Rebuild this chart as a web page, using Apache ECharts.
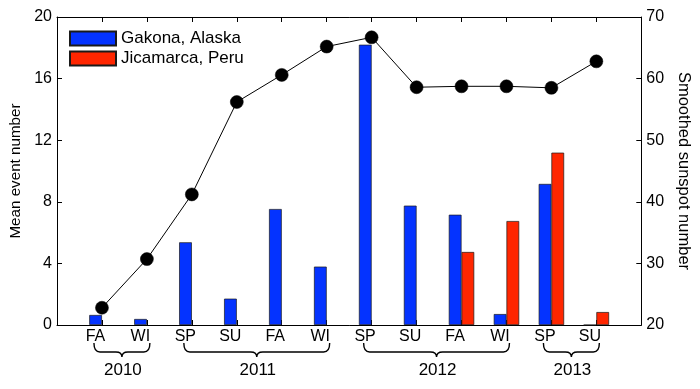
<!DOCTYPE html>
<html>
<head>
<meta charset="utf-8">
<script src="https://cdn.jsdelivr.net/npm/echarts@6/dist/echarts.min.js"></script>
<style>
html,body{margin:0;padding:0;background:#fff;}
#chart{width:700px;height:389px;}
</style>
</head>
<body>
<div id="chart"></div>
<script>
// ---- data ----
var seasons = ['FA','WI','SP','SU','FA','WI','SP','SU','FA','WI','SP','SU'];
var gakona = [0.65, 0.39, 5.37, 1.71, 7.53, 3.79, 18.2, 7.75, 7.16, 0.71, 9.16, 0];
var jicamarca = [null, null, null, null, null, null, null, null, 4.74, 6.75, 11.19, 0.84];
var sunspot = [22.8, 30.7, 41.2, 56.2, 60.6, 65.2, 66.7, 58.6, 58.75, 58.75, 58.5, 62.8];
var yearLabels = ['2010', '2011', '2012', '2013'];
var yearFirst = [1, 3, 7, 11];   // category positions (1-based) of first season in year
var yearLast  = [2, 6, 10, 12];
var leftTicks = {min: 0, max: 20, interval: 4};
var rightTicks = {min: 20, max: 70, interval: 10};

// ---- build ----
var axisCats = [''].concat(seasons).concat(['']);
function pairs(arr){
  var out = [];
  arr.forEach(function(v, i){ out.push([i + 1, (v === null ? '-' : v)]); });
  return out;
}
var yearData = yearFirst.map(function(f, i){ return [f, yearLast[i]]; });

var FONT = 'Liberation Sans, Arial, Helvetica, sans-serif';
var chart = echarts.init(document.getElementById('chart'), null, {renderer: 'canvas'});

var option = {
  animation: false,
  backgroundColor: '#fff',
  textStyle: {fontFamily: FONT, color: '#000'},
  grid: {left: 57, right: 57, top: 17, height: 308, containLabel: false},
  legend: {
    orient: 'vertical', left: 64, top: 25,
    itemWidth: 46, itemHeight: 14, itemGap: 3,
    icon: 'rect',
    data: ['Gakona, Alaska', 'Jicamarca, Peru'],
    textStyle: {fontFamily: FONT, fontSize: 17, color: '#000', lineHeight: 16}
  },
  xAxis: [
    {
      type: 'category', data: axisCats, boundaryGap: false, position: 'bottom',
      axisLine: {lineStyle: {color: '#000', width: 1}},
      axisTick: {inside: true, length: 5, interval: 0, lineStyle: {color: '#000'}},
      axisLabel: {interval: 0, fontFamily: FONT, fontSize: 16, color: '#000', margin: 4, padding: [0, 13, 0, 0]},
      splitLine: {show: false}
    },
    {
      type: 'category', data: axisCats, boundaryGap: false, position: 'top',
      axisLine: {lineStyle: {color: '#000', width: 1}},
      axisTick: {inside: true, length: 5, interval: 0, lineStyle: {color: '#000'}},
      axisLabel: {show: false},
      splitLine: {show: false}
    }
  ],
  yAxis: [
    {
      type: 'value', position: 'left', min: leftTicks.min, max: leftTicks.max, interval: leftTicks.interval,
      name: 'Mean event number', nameLocation: 'middle', nameGap: 32, nameRotate: 90,
      nameTextStyle: {fontFamily: FONT, fontSize: 15.2, color: '#000'},
      axisLine: {show: true, lineStyle: {color: '#000', width: 1}},
      axisTick: {show: true, inside: true, length: 5, lineStyle: {color: '#000'}},
      axisLabel: {fontFamily: FONT, fontSize: 16, color: '#000', margin: 5},
      splitLine: {show: false}
    },
    {
      type: 'value', position: 'right', min: rightTicks.min, max: rightTicks.max, interval: rightTicks.interval,
      name: 'Smoothed sunspot number', nameLocation: 'middle', nameGap: 32, nameRotate: -90,
      nameTextStyle: {fontFamily: FONT, fontSize: 16.5, color: '#000'},
      axisLine: {show: true, lineStyle: {color: '#000', width: 1}},
      axisTick: {show: true, inside: true, length: 5, lineStyle: {color: '#000'}},
      axisLabel: {fontFamily: FONT, fontSize: 16, color: '#000', margin: 5},
      splitLine: {show: false}
    }
  ],
  series: [
    {
      name: 'Gakona, Alaska', type: 'bar', xAxisIndex: 0, yAxisIndex: 0,
      data: pairs(gakona), barWidth: 12.7, barGap: '0%',
      itemStyle: {color: '#0433ff', borderColor: '#1a1a1a', borderWidth: 0.7},
      z: 2
    },
    {
      name: 'Jicamarca, Peru', type: 'bar', xAxisIndex: 0, yAxisIndex: 0,
      data: pairs(jicamarca), barWidth: 12.7, barGap: '0%',
      itemStyle: {color: '#ff2600', borderColor: '#1a1a1a', borderWidth: 0.7},
      z: 2
    },
    {
      name: 'Sunspot', type: 'line', xAxisIndex: 0, yAxisIndex: 1,
      data: pairs(sunspot),
      symbol: 'circle', symbolSize: 13,
      lineStyle: {color: '#000', width: 1},
      itemStyle: {color: '#000', borderColor: '#000', borderWidth: 0.5},
      z: 5
    },
    {
      name: 'years', type: 'custom', xAxisIndex: 0, yAxisIndex: 0,
      data: yearData, clip: false, silent: true,
      renderItem: function(params, api){
        var p1 = api.coord([api.value(0), 0]);
        var p2 = api.coord([api.value(1), 0]);
        var x1 = p1[0] - 8, x2 = p2[0] + 3, y0 = p1[1];
        var xm = (x1 + x2) / 2;
        var yTop = y0 + 18, yMid = y0 + 27, yTip = y0 + 32, r = 6;
        var d = 'M' + x1 + ' ' + yTop +
          ' Q' + x1 + ' ' + yMid + ' ' + (x1 + r) + ' ' + yMid +
          ' L' + (xm - r) + ' ' + yMid +
          ' Q' + xm + ' ' + yMid + ' ' + xm + ' ' + yTip +
          ' Q' + xm + ' ' + yMid + ' ' + (xm + r) + ' ' + yMid +
          ' L' + (x2 - r) + ' ' + yMid +
          ' Q' + x2 + ' ' + yMid + ' ' + x2 + ' ' + yTop;
        return {
          type: 'group',
          children: [
            {type: 'path', shape: {pathData: d}, style: {fill: null, stroke: '#000', lineWidth: 1.4}},
            {type: 'text', style: {text: yearLabels[params.dataIndex], x: xm + 1, y: y0 + 45,
              textAlign: 'center', textVerticalAlign: 'middle', font: '17px ' + FONT, fill: '#000'}}
          ]
        };
      },
      z: 3
    }
  ]
};
chart.setOption(option);
</script>
</body>
</html>
